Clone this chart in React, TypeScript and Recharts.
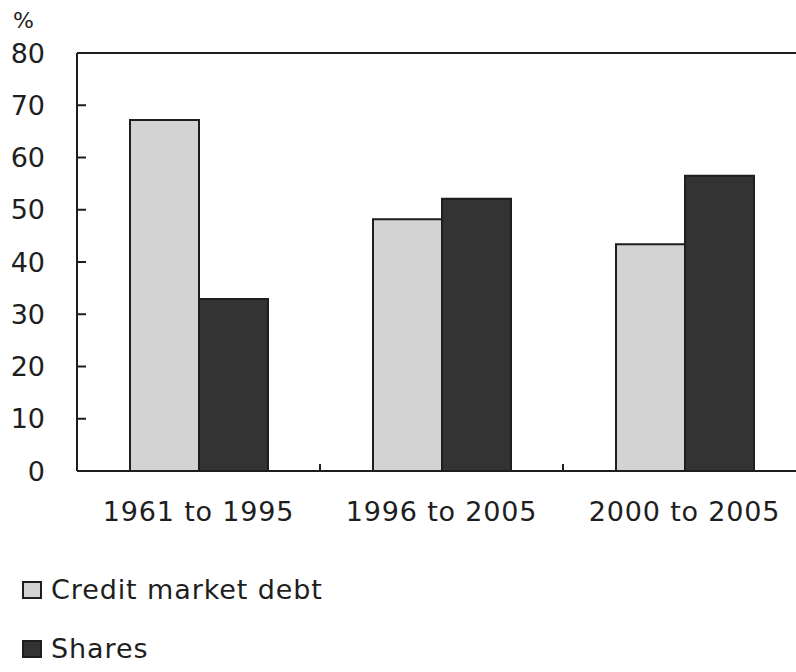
import { BarChart, Bar, XAxis, YAxis, ReferenceLine, Legend } from "recharts";

const periods = ["1961 to 1995", "1996 to 2005", "2000 to 2005"];
const creditDebt = [67.2, 48.2, 43.4];
const shares = [32.9, 52.1, 56.5];
const yTicks = [0, 10, 20, 30, 40, 50, 60, 70, 80];

const W = 830;
const H = 672;
const M = { top: 53, right: 24, left: 0, bottom: 141 };
const Y_W = 77;
const BAND = (W - M.right - Y_W) / periods.length;

const FONT = "'DejaVu Sans', sans-serif";
const INK = "#1e1e1e";
const LIGHT = "#d3d3d3";
const DARK = "#333333";

const data = periods.map((p, i) => ({
  period: p,
  credit: creditDebt[i],
  shares: shares[i],
}));

function XTick({ x, y, payload }: any) {
  return (
    <g>
      {/* boundary tick at the right edge of each category, pointing up */}
      <line x1={x + BAND / 2} x2={x + BAND / 2} y1={y} y2={y - 7} stroke={INK} strokeWidth={2} />
      <text
        x={x}
        y={y + 40}
        textAnchor="middle"
        dominantBaseline="central"
        fontFamily={FONT}
        fontSize={27}
        letterSpacing={0.8}
        fill={INK}
      >
        {payload.value}
      </text>
    </g>
  );
}

function YTick({ x, y, payload }: any) {
  return (
    <g>
      {payload.value !== 0 && payload.value !== 80 && (
        <line x1={x} x2={x + 9} y1={y} y2={y} stroke={INK} strokeWidth={2} />
      )}
      <text
        x={x - 32}
        y={y}
        textAnchor="end"
        dominantBaseline="central"
        fontFamily={FONT}
        fontSize={27}
        fill={INK}
      >
        {payload.value}
      </text>
    </g>
  );
}

const legendItems = [
  { label: "Credit market debt", color: LIGHT },
  { label: "Shares", color: DARK },
];

function LegendBox() {
  return (
    <div style={{ fontFamily: FONT, fontSize: 27, letterSpacing: 0.9, color: INK }}>
      {legendItems.map((it) => (
        <div key={it.label} style={{ display: "flex", alignItems: "center", height: 59 }}>
          <span
            style={{
              display: "inline-block",
              width: 16,
              height: 14,
              background: it.color,
              border: `2px solid ${INK}`,
              marginRight: 9,
            }}
          />
          {it.label}
        </div>
      ))}
    </div>
  );
}

export default function App() {
  return (
    <div style={{ position: "absolute", top: 0, left: 0, width: 796, height: 672, overflow: "hidden", background: "#fff" }}>
      <BarChart width={W} height={H} data={data} margin={M} barSize={69} barGap={0}>
        <XAxis
          dataKey="period"
          height={60}
          axisLine={{ stroke: INK, strokeWidth: 2 }}
          tickLine={false}
          tickSize={0}
          tickMargin={0}
          tick={<XTick />}
          interval={0}
        />
        <YAxis
          width={Y_W}
          domain={[0, 80]}
          ticks={yTicks}
          axisLine={{ stroke: INK, strokeWidth: 2 }}
          tickLine={false}
          tickSize={0}
          tickMargin={0}
          tick={<YTick />}
          label={(props: any) => (
            <text
              x={props.viewBox.x + 13}
              y={props.viewBox.y - 33}
              dominantBaseline="central"
              fontFamily={FONT}
              fontSize={22}
              fill={INK}
            >
              %
            </text>
          )}
        />
        <ReferenceLine y={80} stroke={INK} strokeWidth={2} />
        <Legend
          layout="horizontal"
          verticalAlign="middle"
          align="center"
          content={<LegendBox />}
          wrapperStyle={{ top: 560, left: 22, width: 400, height: 120 }}
        />
        <Bar dataKey="credit" name="Credit market debt" fill={LIGHT} stroke={INK} strokeWidth={2} isAnimationActive={false} />
        <Bar dataKey="shares" name="Shares" fill={DARK} stroke={INK} strokeWidth={2} isAnimationActive={false} />
      </BarChart>
    </div>
  );
}
